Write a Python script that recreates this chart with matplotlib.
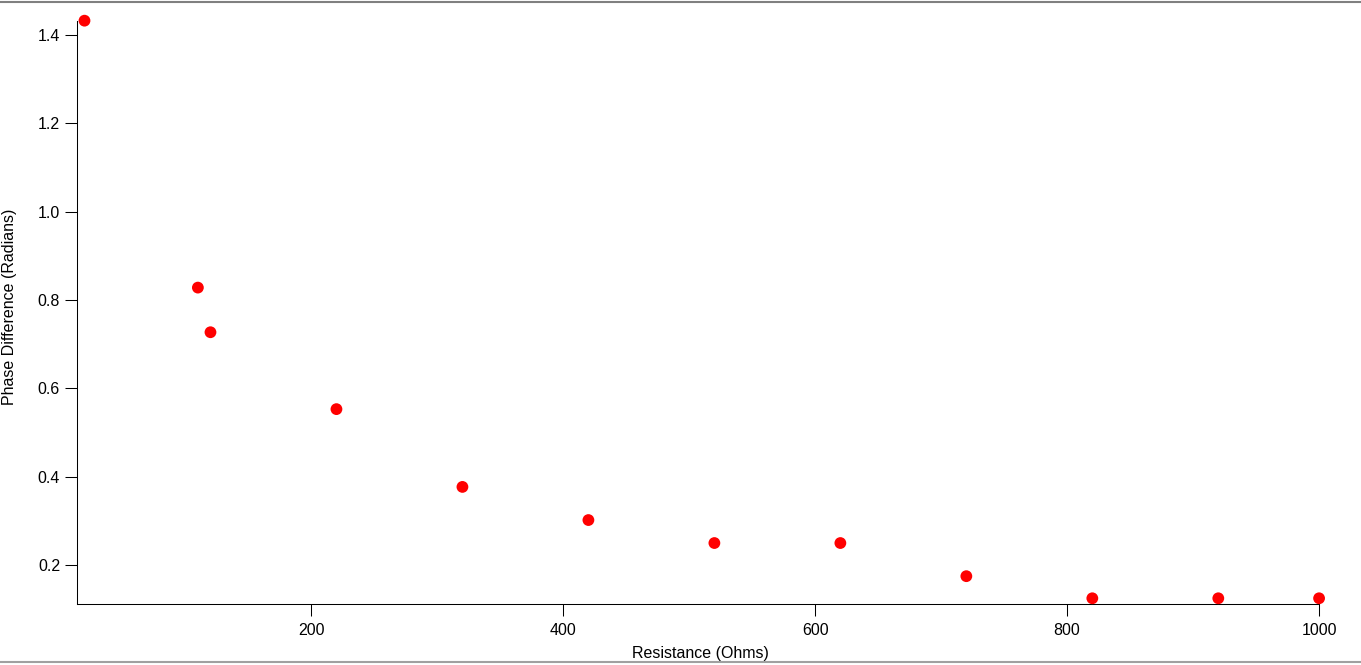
import matplotlib
matplotlib.use("Agg")
import matplotlib.pyplot as plt
from matplotlib.lines import Line2D

# data
resistance = [20, 110, 120, 220, 320, 420, 520, 620, 720, 820, 920, 1000]
phase_diff = [1.432, 0.828, 0.727, 0.553, 0.377, 0.302, 0.250, 0.250, 0.175, 0.125, 0.125, 0.125]

x_ticks = [200, 400, 600, 800, 1000]
y_ticks = [0.2, 0.4, 0.6, 0.8, 1.0, 1.2, 1.4]

plt.rcParams['font.family'] = ['Liberation Sans', 'DejaVu Sans']

fig = plt.figure(figsize=(13.61, 6.65), dpi=100)
ax = fig.add_axes([0.0569, 0.0917, 0.9123, 0.8772])

ax.scatter(resistance, phase_diff, s=72, color='#ff0000', edgecolors='none',
           zorder=3, clip_on=False)

ax.set_xlim(14.4, 1000)
ax.set_ylim(0.112, 1.432)
ax.set_xticks(x_ticks)
ax.set_yticks(y_ticks)
ax.set_yticklabels([f"{v:.1f}" for v in y_ticks])

for side in ['top', 'right']:
    ax.spines[side].set_visible(False)
for side in ['left', 'bottom']:
    ax.spines[side].set_linewidth(0.75)

ax.tick_params(axis='both', direction='out', length=8.5, width=0.75,
               labelsize=11.5, colors='black')
ax.tick_params(axis='x', pad=5)
ax.tick_params(axis='y', pad=4)

ax.set_xlabel('Resistance (Ohms)', fontsize=11.5)
ax.set_ylabel('Phase Difference (Radians)', fontsize=11.5)
ax.xaxis.set_label_coords(0.502, -0.084)
ax.xaxis.label.set_va('center')
ax.yaxis.set_label_coords(-0.0545, 0.51)
ax.yaxis.label.set_va('center')

# window borders visible in the screenshot
fig.add_artist(Line2D([0, 1], [0.997, 0.997], transform=fig.transFigure,
                      color='#808080', linewidth=1.5))
fig.add_artist(Line2D([0, 1], [0.005, 0.005], transform=fig.transFigure,
                      color='#a0a0a0', linewidth=1.5))

fig.savefig('out.png', dpi=100)
